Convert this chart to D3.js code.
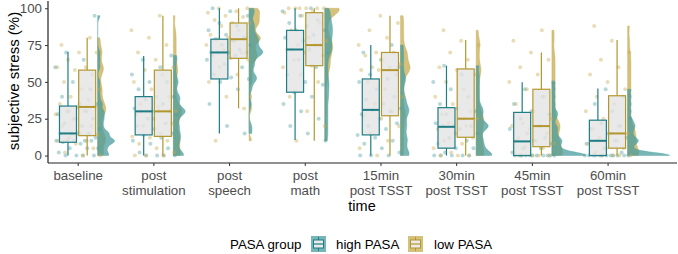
<!DOCTYPE html>
<html>
<head>
<meta charset="utf-8">
<script src="https://cdn.jsdelivr.net/npm/d3@7"></script>
<style>
  body { margin: 0; background: #fff; }
  svg { font-family: "Liberation Sans", Arial, sans-serif; }
</style>
</head>
<body>
<div id="chart"></div>
<script>
// categories
const times = ["baseline", "post|stimulation", "post|speech", "post|math",
               "15min|post TSST", "30min|post TSST", "45min|post TSST", "60min|post TSST"];

// box stats, high PASA
const highLo  = [0, 0, 15, 10.5, 0, 0, 0, 0];
const highQ1  = [9, 14, 52, 43, 14, 5, 0, 0];
const highMed = [15, 30, 70, 72, 31, 19.5, 9.6, 10];
const highQ3  = [33.6, 40, 79, 85, 52, 32.5, 29.3, 24];
const highHi  = [70.5, 67.6, 100, 100, 75, 61, 49.7, 45.6];

// box stats, low PASA
const lowLo  = [0, 0, 32, 10, 0, 0, 0, 0];
const lowQ1  = [13.5, 13, 66, 61, 27, 12.4, 6, 5];
const lowMed = [33, 30, 79, 75, 58, 25, 20, 15];
const lowQ3  = [58, 58, 90, 97, 70, 58.8, 45, 40.6];
const lowHi  = [80, 95, 100, 100, 95, 78.5, 70, 78.5];

// individual ratings
const highPts = [
  [0,0,0,0,2,5,5,5,8,9,10,10,10,10,10,12,15,15,15,15,18,20,22,25,25,28,30,30,35,35,40,45,50,60,65,70,95],
  [0,0,0,0,2,5,8,10,12,14,15,18,20,22,25,28,30,30,30,30,32,35,38,40,40,45,50,50,55,60,65,68],
  [15,20,35,45,50,52,53,55,60,62,65,68,70,70,70,70,72,75,75,78,79,80,82,85,88,90,95,98,100],
  [10,15,20,25,30,35,40,43,48,50,55,60,65,70,72,72,75,78,80,82,85,85,88,90,92,95,98,100],
  [0,0,0,2,5,8,10,12,14,18,20,22,25,28,30,31,32,35,38,40,45,50,52,55,60,65,70,75],
  [0,0,0,0,0,2,5,5,8,10,12,15,18,20,20,20,22,25,28,30,32,35,40,45,50,55,61],
  [0,0,0,0,0,0,0,0,0,0,0,2,5,5,8,10,10,12,15,18,20,25,28,30,35,40,45,50],
  [0,0,0,0,0,0,0,0,0,0,0,0,2,5,8,10,10,12,15,18,20,22,25,30,35,40,45]
];
const lowPts = [
  [0,0,2,5,8,10,10,12,14,15,20,20,25,28,30,30,33,33,35,38,40,45,45,50,55,58,60,60,65,70,70,75,80],
  [0,0,0,2,5,8,10,12,13,15,20,22,25,28,30,30,30,33,35,40,45,50,55,58,60,65,70,75,80,85,95],
  [10,32,40,50,55,60,65,66,68,70,72,75,78,79,80,80,82,85,88,90,90,92,94,95,97,98,100,100],
  [10,20,30,40,50,55,60,61,65,68,70,72,75,75,78,80,85,90,95,97,98,100,100,100,100,100,100],
  [0,5,10,15,20,25,27,30,35,40,45,50,55,58,58,60,60,62,65,68,70,70,75,80,85,90,95],
  [0,0,0,2,5,8,10,12,15,18,20,22,25,25,28,30,35,40,45,50,55,58,60,65,70,75,78,85],
  [0,0,0,0,2,5,6,8,10,12,15,18,20,20,22,25,30,35,40,45,50,55,60,65,70,78,85],
  [0,0,0,0,2,5,5,8,10,12,15,15,18,20,25,30,35,40,45,50,55,60,65,70,78,88]
];

const yTicks = [0, 25, 50, 75, 100];
const groupNames = ["high PASA", "low PASA"];
const groupColors = ["#1f7d85", "#b3972e"];
const violinColors = ["#4a9c9d", "#c7ab50"];

const W = 678, H = 254;
const svg = d3.select("#chart").append("svg").attr("width", W).attr("height", H);

const x = d3.scaleLinear().domain([0.608, 8.917]).range([48, 677]);
const y = d3.scaleLinear().domain([-5, 105]).range([162.9, 0.9]);

const groups = [
  {pts: highPts, lo: highLo, q1: highQ1, med: highMed, q3: highQ3, hi: highHi, off: -9.7},
  {pts: lowPts, lo: lowLo, q1: lowQ1, med: lowMed, q3: lowQ3, hi: lowHi, off: 9.5}
];

// densities (gaussian kde, narrow bandwidth)
function kde(vals) {
  const n = vals.length;
  const sd = d3.deviation(vals);
  const iqr = d3.quantile(vals, 0.75) - d3.quantile(vals, 0.25);
  const bw = 0.9 * Math.min(sd, iqr > 0 ? iqr / 1.34 : sd) * Math.pow(n, -0.2) * 0.3;
  const lo = d3.min(vals), hi = d3.max(vals);
  const out = [];
  for (let k = 0; k <= 120; k++) {
    const v = lo + (hi - lo) * k / 120;
    let s = 0;
    vals.forEach(d => { const z = (v - d) / bw; s += Math.exp(-0.5 * z * z); });
    out.push({v: v, d: s / (n * bw * Math.sqrt(2 * Math.PI))});
  }
  return out;
}
const dens = groups.map(g => g.pts.map(kde));
const maxD = d3.max(dens.flat(2), d => d.d);
const wScale = d3.scaleLinear().domain([0, maxD]).range([0, 42]);

const plot = svg.append("g");

// half violins
[1, 0].forEach(gi => {
  dens[gi].forEach((dd, i) => {
    const x0 = x(i + 1) + 20;
    plot.append("path")
      .datum(dd)
      .attr("fill", violinColors[gi])
      .attr("fill-opacity", 0.75)
      .attr("stroke", violinColors[gi]).attr("stroke-opacity", 0.6).attr("stroke-width", 0.6)
      .attr("d", d3.area().curve(d3.curveBasis)
        .y(d => y(d.v)).x0(x0).x1(d => x0 + wScale(d.d)));
  });
});

// jittered points
groups.forEach((g, gi) => {
  g.pts.forEach((vals, i) => {
    plot.selectAll(null).data(vals).enter().append("circle")
      .attr("cx", (d, k) => x(i + 1) + ((((k + 1) * 0.6180339 + gi * 0.37 + i * 0.11) % 1) - 0.5) * 46)
      .attr("cy", d => y(d))
      .attr("r", 2)
      .attr("fill", violinColors[gi])
      .attr("fill-opacity", 0.4);
  });
});

// boxes
const bw = 17;
groups.forEach((g, gi) => {
  times.forEach((t, i) => {
    const cx = x(i + 1) + g.off;
    const bg = plot.append("g").attr("stroke", groupColors[gi]);
    bg.append("line").attr("x1", cx).attr("x2", cx).attr("y1", y(g.hi[i])).attr("y2", y(g.q3[i])).attr("stroke-width", 1.2);
    bg.append("line").attr("x1", cx).attr("x2", cx).attr("y1", y(g.q1[i])).attr("y2", y(g.lo[i])).attr("stroke-width", 1.2);
    bg.append("rect").attr("x", cx - bw / 2).attr("width", bw)
      .attr("y", y(g.q3[i])).attr("height", Math.max(0.5, y(g.q1[i]) - y(g.q3[i])))
      .attr("fill", "#e3e3e3").attr("fill-opacity", 0.8).attr("stroke-width", 1.2);
    bg.append("line").attr("x1", cx - bw / 2).attr("x2", cx + bw / 2)
      .attr("y1", y(g.med[i])).attr("y2", y(g.med[i])).attr("stroke-width", 2);
  });
});

// axes
const yAxis = svg.append("g").attr("transform", "translate(48,0)")
  .call(d3.axisLeft(y).tickValues(yTicks).tickSize(3).tickSizeOuter(0));
yAxis.select(".domain").attr("d", "M0,0.9V163").attr("stroke", "#222").attr("stroke-width", 1.2);
yAxis.selectAll(".tick line").attr("stroke", "#333");
yAxis.selectAll(".tick text").attr("font-size", 13.3).attr("fill", "#4d4d4d")
  .attr("font-family", "Liberation Sans, Arial, sans-serif").attr("x", -6);

const xAxis = svg.append("g").attr("transform", "translate(0,163)")
  .call(d3.axisBottom(x).tickValues(d3.range(1, 9)).tickSize(3).tickFormat(""));
xAxis.select(".domain").attr("d", "M48,0H677").attr("stroke", "#222").attr("stroke-width", 1.2);
xAxis.selectAll(".tick line").attr("stroke", "#333");
xAxis.selectAll(".tick").each(function (d) {
  const lines = times[d - 1].split("|");
  const t = d3.select(this).append("text")
    .attr("fill", "#4d4d4d").attr("font-size", 13.3).attr("text-anchor", "middle")
    .attr("font-family", "Liberation Sans, Arial, sans-serif");
  lines.forEach((l, j) => t.append("tspan").attr("x", 0).attr("y", 17 + j * 14.5).text(l));
});

// axis titles
svg.append("text").attr("x", 362).attr("y", 211).attr("text-anchor", "middle")
  .attr("font-size", 14.5).attr("fill", "#000").text("time");
svg.append("text").attr("transform", "translate(19,81) rotate(-90)").attr("text-anchor", "middle")
  .attr("font-size", 15).attr("fill", "#000").text("subjective stress (%)");

// legend
const leg = svg.append("g");
leg.append("text").attr("x", 230).attr("y", 248.5).attr("font-size", 13.3).text("PASA group");
const keyX = [311, 408], labX = [336, 434];
groupNames.forEach((nm, gi) => {
  const kg = leg.append("g").attr("transform", `translate(${keyX[gi]},236)`);
  kg.append("rect").attr("width", 15).attr("height", 16).attr("fill", violinColors[gi]).attr("fill-opacity", 0.75);
  kg.append("line").attr("x1", 7.5).attr("x2", 7.5).attr("y1", 1).attr("y2", 15).attr("stroke", groupColors[gi]);
  kg.append("rect").attr("x", 2.5).attr("y", 4).attr("width", 10).attr("height", 8)
    .attr("fill", "#ebebeb").attr("stroke", groupColors[gi]);
  kg.append("line").attr("x1", 2.5).attr("x2", 12.5).attr("y1", 8).attr("y2", 8).attr("stroke", groupColors[gi]).attr("stroke-width", 1.2);
  leg.append("text").attr("x", labX[gi]).attr("y", 248.5).attr("font-size", 13.3).text(nm);
});
</script>
</body>
</html>
